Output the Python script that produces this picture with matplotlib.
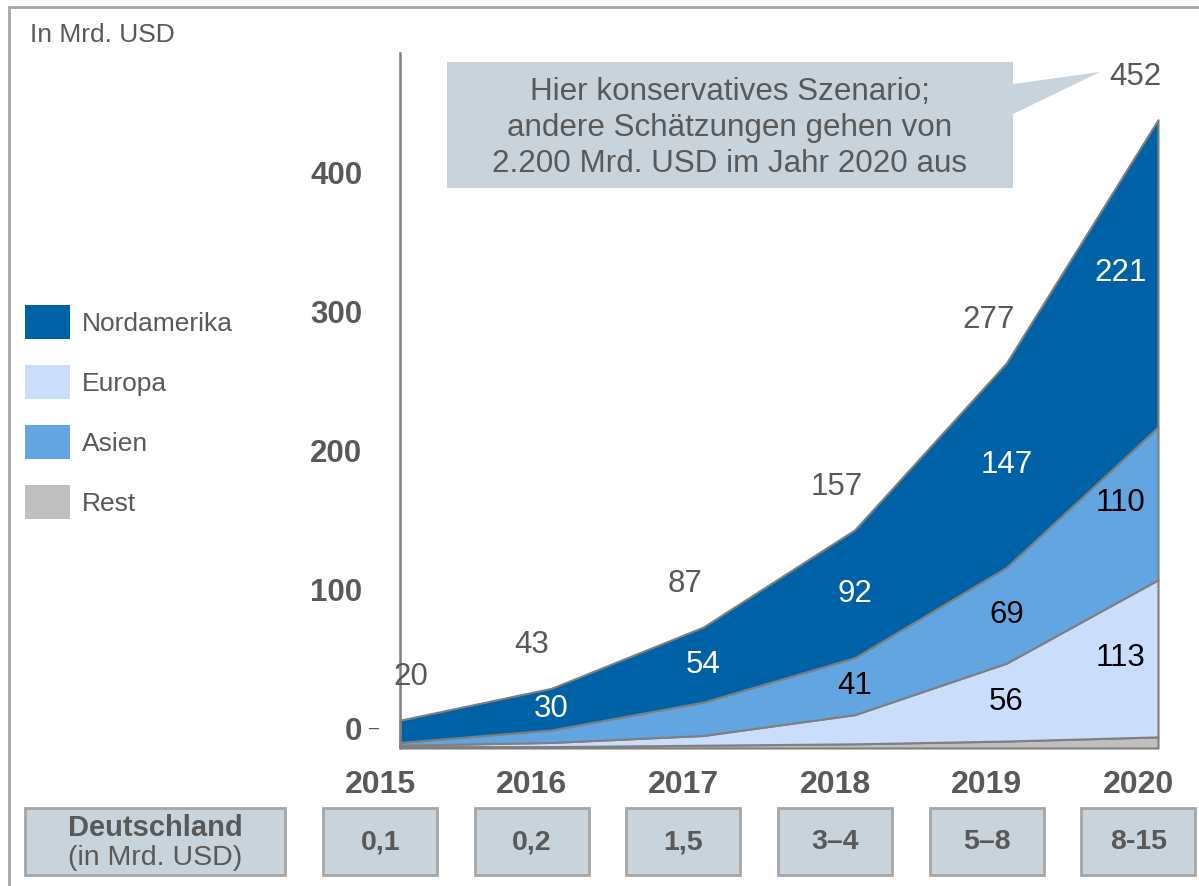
import matplotlib
matplotlib.use("Agg")
import matplotlib.pyplot as plt
import matplotlib.transforms as mtransforms
from matplotlib.patches import Rectangle, Polygon
import numpy as np

plt.rcParams['font.family'] = ['Liberation Sans', 'DejaVu Sans']

# data (Mrd. USD)
years = ['2015', '2016', '2017', '2018', '2019', '2020']
rest = [1, 1, 2, 3, 5, 8]
europa = [1, 3, 7, 21, 56, 113]
asien = [2, 9, 24, 41, 69, 110]
nordamerika = [16, 30, 54, 92, 147, 221]
totals = [20, 43, 87, 157, 277, 452]
deutschland = ['0,1', '0,2', '1,5', '3–4', '5–8', '8-15']
ytick_values = [0, 100, 200, 300, 400]
ytick_labels = ['0', '100', '200', '300', '400']

names = ['Rest', 'Europa', 'Asien', 'Nordamerika']
colors = {'Nordamerika': '#0062a6', 'Europa': '#cadefc',
          'Asien': '#63a5e1', 'Rest': '#bfbfbf'}
legend_order = ['Nordamerika', 'Europa', 'Asien', 'Rest']

GRAY = '#595959'
EDGE = '#7f7f7f'
BOX = '#c8d3dc'
BOXEDGE = '#a6a6a6'

W, H = 1199, 886
fig = plt.figure(figsize=(W / 100, H / 100), dpi=100)


def px(x, y):
    return x / W, 1 - y / H


# main axes: placed in pixels
ax = fig.add_axes([400 / W, 1 - 748 / H, 758 / W, 695 / H])
x = np.arange(len(years))
layers = [rest, europa, asien, nordamerika]
polys = ax.stackplot(x, *layers, colors=[colors[n] for n in names],
                     edgecolor=EDGE, linewidth=1.5)
for p in polys:
    p.set_clip_on(False)

ax.set_xlim(0, 5)
ax.set_ylim(0, 500)
for s in ['top', 'right', 'bottom']:
    ax.spines[s].set_visible(False)
ax.spines['left'].set_color(EDGE)
ax.spines['left'].set_linewidth(1.8)
ax.set_xticks([])
tick_shift = 14  # tick labels sit a bit above the baseline in the original
ax.set_yticks([v + tick_shift for v in ytick_values])
ax.set_yticklabels(ytick_labels, fontsize=22.5, fontweight='bold', color=GRAY)
ax.tick_params(axis='y', length=0, pad=27)
ax.text(-0.034, tick_shift, '–', transform=ax.get_yaxis_transform(),
        ha='center', va='center', fontsize=13, color=GRAY)

# segment labels
base_a = np.array(rest) + np.array(europa)
base_n = base_a + np.array(asien)
for i in range(1, 6):
    xi = i if i < 5 else 4.75
    ax.text(xi, base_n[i] + nordamerika[i] / 2, str(nordamerika[i]),
            ha='center', va='center', fontsize=22.5, color='white')
for i in range(3, 6):
    xi = i if i < 5 else 4.75
    ax.text(xi, base_a[i] + asien[i] / 2, str(asien[i]),
            ha='center', va='center', fontsize=22.5, color='black')
for i in range(4, 6):
    xi = i if i < 5 else 4.75
    ax.text(xi, rest[i] + europa[i] / 2, str(europa[i]),
            ha='center', va='center', fontsize=22.5, color='black')

total_dx = [0.07, -0.13, -0.12, -0.12, -0.12, -0.15]
for i, t in enumerate(totals):
    ax.text(i + total_dx[i], t + 31, str(t), ha='center', va='center',
            fontsize=22.5, color=GRAY, clip_on=False)

# years and Deutschland boxes
blend = mtransforms.blended_transform_factory(ax.transData, fig.transFigure)
bw = 0.752
for i, (yr, d) in enumerate(zip(years, deutschland)):
    cx = i - 0.13
    fig.text(cx, 1 - 785 / H, yr, transform=blend, ha='center', va='center',
             fontsize=23, fontweight='bold', color=GRAY)
    fig.patches.append(Rectangle((cx - bw / 2, 1 - 875 / H), bw, 67 / H,
                                 transform=blend, facecolor=BOX,
                                 edgecolor=BOXEDGE, linewidth=2))
    fig.text(cx, 1 - 842 / H, d, transform=blend, ha='center', va='center',
             fontsize=20.5, fontweight='bold', color=GRAY)

fig.patches.append(Rectangle(px(25, 875), 260 / W, 67 / H,
                             transform=fig.transFigure, facecolor=BOX,
                             edgecolor=BOXEDGE, linewidth=2))
fig.text(*px(155, 828), 'Deutschland', ha='center', va='center',
         fontsize=21, fontweight='bold', color=GRAY)
fig.text(*px(155, 858), '(in Mrd. USD)', ha='center', va='center',
         fontsize=20.5, color=GRAY)

# legend
for k, name in enumerate(legend_order):
    top = 305 + k * 60
    fig.patches.append(Rectangle(px(25, top + 34), 45 / W, 34 / H,
                                 transform=fig.transFigure,
                                 facecolor=colors[name], edgecolor='none'))
    fig.text(*px(82, top + 19), name, ha='left', va='center',
             fontsize=19, color=GRAY)

fig.text(*px(30, 35), 'In Mrd. USD', ha='left', va='center',
         fontsize=19, color=GRAY)

# callout
call = [px(447, 62), px(1013, 62), px(1013, 84), px(1100, 72),
        px(1013, 114), px(1013, 188), px(447, 188)]
fig.patches.append(Polygon(call, closed=True, transform=fig.transFigure,
                           facecolor=BOX, edgecolor='none'))
fig.text(*px(730, 128),
         'Hier konservatives Szenario;\nandere Schätzungen gehen von\n'
         '2.200 Mrd. USD im Jahr 2020 aus',
         ha='center', va='center', fontsize=22.6, color=GRAY, linespacing=1.28)

# outer frame
fig.patches.append(Rectangle(px(9, 900), 1.2, (900 - 7) / H,
                             transform=fig.transFigure, fill=False,
                             edgecolor=BOXEDGE, linewidth=2))

fig.savefig('out.png', dpi=100)
